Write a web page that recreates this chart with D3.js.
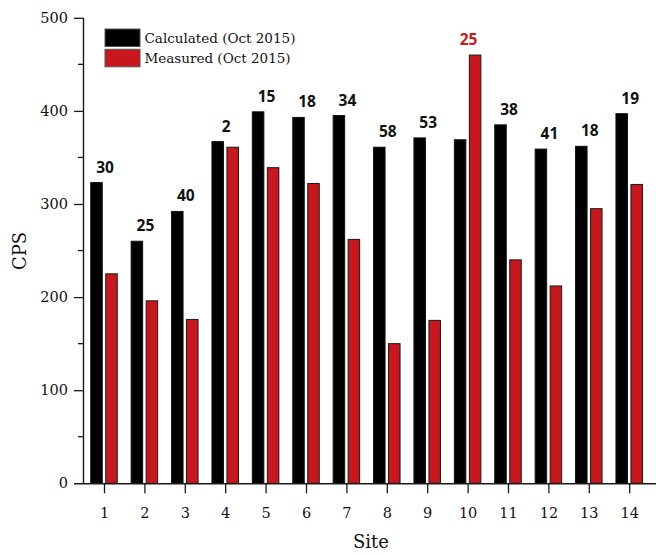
<!DOCTYPE html>
<html>
<head>
<meta charset="utf-8">
<script src="https://cdn.jsdelivr.net/npm/d3@7"></script>
<style>
  html, body { margin: 0; padding: 0; background: #fff; }
  svg { display: block; }
</style>
</head>
<body>
<svg id="chart" width="656" height="554"></svg>
<script>
// Sites and count rates (CPS)
const sites = [1, 2, 3, 4, 5, 6, 7, 8, 9, 10, 11, 12, 13, 14];
const calculated = [323, 260, 292, 367, 399, 393, 395, 361, 371, 369, 385, 359, 362, 397];
const measured = [225, 196, 176, 361, 339, 322, 262, 150, 175, 460, 240, 212, 295, 321];
// Percentage differences shown above each site
const diffLabels = ["30", "25", "40", "2", "15", "18", "34", "58", "53", "25", "38", "41", "18", "19"];
// Site whose label sits over the measured bar
const labelOnMeasured = [false, false, false, false, false, false, false, false, false, true, false, false, false, false];
const yTicks = [0, 100, 200, 300, 400, 500];
const yMinorTicks = [50, 150, 250, 350, 450];
const seriesNames = ["Calculated (Oct 2015)", "Measured (Oct 2015)"];

const BLACK = "#000000";
const RED = "#c8171d";
const AXIS = "#1a1a1a";
const SERIF = "'DejaVu Serif', serif";

const svg = d3.select("#chart");

const x = d3.scaleLinear().domain([0.5, 14.5]).range([83.8, 649.4]);
const y = d3.scaleLinear().domain([0, 500]).range([483.3, 17.8]);

const barW = 11.5;
const offset = 7.5;

// Bars
const g = svg.append("g");
g.selectAll("rect.calc")
  .data(sites)
  .join("rect")
  .attr("class", "calc")
  .attr("x", (d) => x(d) - offset - barW / 2)
  .attr("width", barW)
  .attr("y", (d, i) => y(calculated[i]))
  .attr("height", (d, i) => y(0) - y(calculated[i]))
  .attr("fill", BLACK)
  .attr("stroke", "#111")
  .attr("stroke-width", 1);

g.selectAll("rect.meas")
  .data(sites)
  .join("rect")
  .attr("class", "meas")
  .attr("x", (d) => x(d) + offset - barW / 2)
  .attr("width", barW)
  .attr("y", (d, i) => y(measured[i]))
  .attr("height", (d, i) => y(0) - y(measured[i]))
  .attr("fill", RED)
  .attr("stroke", "#1a1a1a")
  .attr("stroke-width", 1);

// Difference labels
g.selectAll("text.diff")
  .data(sites)
  .join("text")
  .attr("class", "diff")
  .attr("x", (d) => x(d) + 1)
  .attr("y", (d, i) => y(labelOnMeasured[i] ? measured[i] : calculated[i]) - 10)
  .attr("text-anchor", "middle")
  .attr("font-family", "'Open Sans', sans-serif")
  .attr("font-weight", "bold")
  .attr("font-size", 15.5)
  .attr("fill", (d, i) => labelOnMeasured[i] ? RED : "#111")
  .text((d, i) => diffLabels[i]);

// Y axis
const yAxis = svg.append("g").attr("transform", `translate(${x(0.5) - 0.8},0)`);
yAxis.call(d3.axisLeft(y).tickValues(yTicks).tickSize(9).tickPadding(6).tickFormat(d3.format("d")));
yAxis.selectAll(".tick")
  .filter((d) => d === 0)
  .select("line").remove();
yAxis.selectAll("line.minor")
  .data(yMinorTicks)
  .join("line")
  .attr("class", "minor")
  .attr("x1", -5).attr("x2", 0)
  .attr("y1", (d) => y(d)).attr("y2", (d) => y(d))
  .attr("stroke", AXIS).attr("stroke-width", 1.3);
yAxis.select(".domain").attr("d", `M0.5,${y(500)}V${y(0)}`);

// X axis
const xAxis = svg.append("g").attr("transform", `translate(0,${y(0)})`);
xAxis.call(d3.axisBottom(x).tickValues(sites).tickSize(10).tickPadding(14).tickFormat(d3.format("d")));
xAxis.select(".domain").attr("d", `M74,0.5H656`);

[yAxis, xAxis].forEach((ax) => {
  ax.select(".domain").attr("stroke", AXIS).attr("stroke-width", 1.4);
  ax.selectAll(".tick line").attr("stroke", AXIS).attr("stroke-width", 1.3);
  ax.selectAll(".tick text")
    .attr("font-family", SERIF)
    .attr("font-size", 14.5)
    .attr("fill", "#111");
});

// Axis titles
svg.append("text")
  .attr("x", 371).attr("y", 548)
  .attr("text-anchor", "middle")
  .attr("font-family", SERIF).attr("font-size", 18).attr("fill", "#111")
  .text("Site");
svg.append("text")
  .attr("transform", "translate(26,251) rotate(-90)")
  .attr("text-anchor", "middle")
  .attr("font-family", SERIF).attr("font-size", 18).attr("fill", "#111")
  .text("CPS");

// Legend
const legend = svg.append("g").attr("transform", "translate(105,29)");
const legendColors = [BLACK, RED];
legend.selectAll("rect")
  .data(seriesNames)
  .join("rect")
  .attr("x", 0).attr("y", (d, i) => i * 20.3)
  .attr("width", 35).attr("height", 17.5)
  .attr("fill", (d, i) => legendColors[i])
  .attr("stroke", "#555").attr("stroke-width", 1);
legend.selectAll("text")
  .data(seriesNames)
  .join("text")
  .attr("x", 39.5).attr("y", (d, i) => 14.3 + i * 20)
  .attr("font-family", SERIF).attr("font-size", 13.5).attr("fill", "#111")
  .text((d) => d);
</script>
</body>
</html>
